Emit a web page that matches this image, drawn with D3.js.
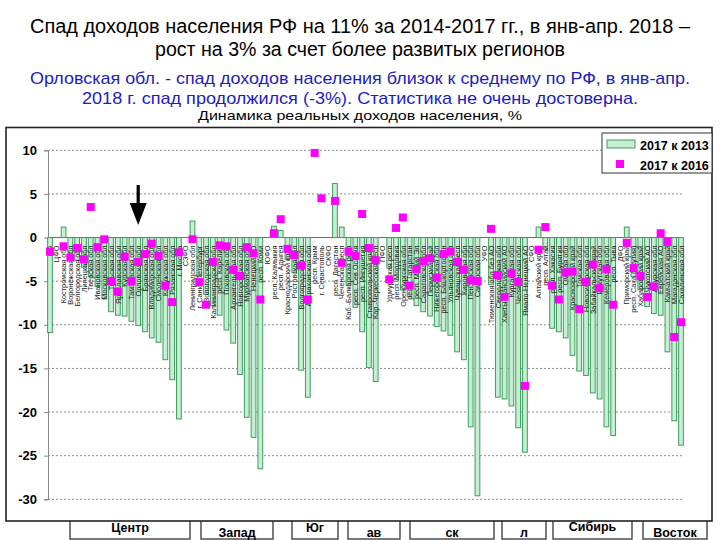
<!DOCTYPE html>
<html><head><meta charset="utf-8">
<script src="https://cdn.jsdelivr.net/npm/d3@7/dist/d3.min.js"></script>
<style>body{margin:0;background:#fff}svg{display:block}</style>
</head><body>
<svg id="chart" width="720" height="540"></svg>
<script>
// ---------- DATA ----------
const categories = [
 "РФ","ЦФО",
 "Костромская обл","Воронежская обл","Белгородская обл","Липецкая обл","Тверская обл","Ивановская обл",
 "Московская обл","Тульская обл","Ярославская обл","Курская обл","Тамбовская обл","Орловская обл",
 "Брянская обл","Владимирская обл","Смоленская обл","Калужская обл","Рязанская обл","г. Москва",
 "СЗФО",
 "Ленинградская обл","г. Санкт-Петербург","Вологодская обл","Калининградская обл","респ. Карелия",
 "Псковская обл","Архангельская обл","Новгородская обл","Мурманская обл","Ненецкий АО","респ. Коми",
 "ЮФО",
 "респ. Калмыкия","респ. Адыгея","Краснодарский край","Ростовская обл","Волгоградская обл",
 "Астраханская обл","респ. Крым","г. Севастополь",
 "СКФО",
 "респ. Дагестан","Чеченская респ","Каб.-Балкарская респ","респ. Сев.Осетия","респ. Ингушетия",
 "Ставропольский край","Кар.-Черкесская респ",
 "ПФО",
 "Удмуртская респ","респ. Мордовия","Оренбургская обл","респ. Татарстан","респ. Марий Эл",
 "Саратовская обл","Пермский край","Нижегородская обл","респ. Башкортостан","Ульяновская обл",
 "Чувашская респ","Кировская обл","Пензенская обл","Самарская обл",
 "УФО",
 "Тюменская обл без АО","Свердловская обл","Ханты-Мансийский АО","Курганская обл","Челябинская обл",
 "Ямало-Ненецкий АО",
 "СФО",
 "Алтайский край","респ. Алтай","респ. Хакасия","респ. Бурятия","Омская обл","Красноярский край",
 "Томская обл","Новосибирская обл","Забайкальский край","Иркутская обл","Кемеровская обл","респ. Тыва",
 "ДФО",
 "Приморский край","респ. Саха (Якутия)","Хабаровский край","Чукотский АО","Амурская обл",
 "Еврейская АО","Камчатский край","Магаданская обл","Сахалинская обл"
];
// 2017 к 2013, %
const change2013 = [
 -10.9, null,
 1.2, -1.8, -2.6, -3.4, -4.5, -5.6, -7.0, -8.5, -8.9, -9.0, -9.6, -10.1, -10.8, -11.5, -12.0, -14.0, -16.3, -20.8,
 null,
 1.9, -4.5, -6.5, -7.8, -8.9, -10.6, -12.1, -15.7, -20.6, -22.9, -26.5,
 null,
 1.3, 0.8, -2.5, -4.0, -15.2, -18.3, null, null,
 null,
 6.2, 1.2, -5.5, -8.0, -10.8, -14.9, -16.5,
 null,
 -3.5, -5.0, -6.0, -6.8, -7.8, -8.5, -9.0, -10.2, -10.7, -11.2, -13.1, -14.0, -21.7, -29.6,
 null,
 -5.4, -18.3, -18.5, -19.3, -21.8, -24.6,
 null,
 1.2, -1.4, -10.4, -10.8, -11.5, -13.5, -15.3, -15.8, -17.8, -18.5, -21.7, -22.7,
 null,
 1.2, -4.5, -6.0, -7.9, -8.7, -8.9, -13.1, -21.0, -23.8
];
// 2017 к 2016, %
const change2016 = [
 -1.6, null,
 -1.0, -2.3, -1.2, -2.5, 3.5, -1.1, -0.2, -5.0, -6.2, -2.2, -5.0, -2.8, -1.9, -0.7, -2.1, -5.5, -7.4, -1.7,
 null,
 -0.2, -5.1, -7.7, -2.8, -0.9, -1.0, -3.7, -4.4, -1.1, -1.8, -7.1,
 null,
 0.5, 2.1, -1.3, -2.0, -3.2, -7.1, 9.7, 4.5,
 null,
 4.2, -2.9, -1.6, -2.1, 2.7, -1.2, -2.6,
 null,
 -4.8, 1.1, 2.3, -5.5, -3.6, -2.7, -2.4, -4.6, -1.9, -1.6, -2.8, -3.7, -4.9, -5.0,
 null,
 1.0, -4.3, -6.8, -4.1, -5.1, -17.0,
 null,
 -1.4, 1.2, -5.5, -7.1, -4.0, -3.9, -8.2, -5.1, -3.1, -5.8, -3.6, -7.7,
 null,
 -0.6, -3.5, -4.4, -6.8, -5.6, 0.5, -0.5, -11.4, -9.7
];
const yTicks = [10, 5, 0, -5, -10, -15, -20, -25, -30];
const legendLabels = ["2017 к 2013", "2017 к 2016"];
const titleLines = [
 "Спад доходов населения РФ на 11% за 2014-2017 гг., в янв-апр. 2018 –",
 "рост на 3% за счет более развитых регионов",
 "Орловская обл. - спад доходов населения близок к среднему по РФ, в янв-апр.",
 "2018 г. спад продолжился (-3%). Статистика не очень достоверна.",
 "Динамика реальных доходов населения, %"
];
const groupLabels = ["Центр", "Запад", "Юг", "ав", "ск", "л", "Сибирь", "Восток"];
const markedRegion = "Орловская обл";

// ---------- LAYOUT ----------
const svg = d3.select("#chart");
const FONT = "'Liberation Sans', Arial, Helvetica, sans-serif";
const titleStyle = [
 {y: 33, size: 19.5, color: "#000", w: 660},
 {y: 56, size: 19.5, color: "#000", w: 410},
 {y: 83.5, size: 17, color: "#1c1cc4", w: 660},
 {y: 103.5, size: 17, color: "#1c1cc4", w: 556},
 {y: 119.5, size: 13.5, color: "#000", w: 324}
];
titleLines.forEach((t, i) => {
  const s = titleStyle[i];
  svg.append("text").attr("x", 360).attr("y", s.y)
    .attr("text-anchor", "middle").attr("font-family", FONT)
    .attr("font-size", s.size).attr("fill", s.color)
    .attr("textLength", s.w).attr("lengthAdjust", "spacingAndGlyphs").text(t);
});

// bottom group boxes (drawn before plot so the plot covers their tops)
const boxLayout = [[70,190,531.5],[201,273,536.5],[292,338,531.5],[348,400,536.5],[410,494,536.5],[502,546,536.5],[553,632,530.5],[643,707,536.5]];
const gb = svg.append("g");
groupLabels.forEach((g, i) => {
  const [x0, x1, by] = boxLayout[i];
  gb.append("rect").attr("x", x0).attr("y", 505).attr("width", x1 - x0).attr("height", 34)
    .attr("fill", "#fff").attr("stroke", "#444").attr("stroke-width", 1.4);
  gb.append("text").attr("x", (x0 + x1) / 2).attr("y", by).attr("text-anchor", "middle")
    .attr("font-family", FONT).attr("font-weight", "bold").attr("font-size", 12.5).text(g);
});

// plot frame
svg.append("rect").attr("x", 6).attr("y", 127.5).attr("width", 706).attr("height", 393.5)
  .attr("fill", "#fff").attr("stroke", "#222").attr("stroke-width", 1.6);

const x = d3.scaleBand().domain(d3.range(categories.length))
  .range([46.6, 684.4]).paddingInner(0.3).paddingOuter(0.15);
const y = d3.scaleLinear().domain([-30, 10]).range([499.3, 150.3]);
const cx = i => x(i) + x.bandwidth() / 2;

// gridlines
const grid = svg.append("g");
grid.selectAll("line").data(yTicks).join("line")
  .attr("x1", 48).attr("x2", 683).attr("y1", d => y(d)).attr("y2", d => y(d))
  .attr("stroke", d => d === 0 ? "#666" : "#8a8a8a")
  .attr("stroke-width", 1)
  .attr("stroke-dasharray", d => d === 0 ? null : "2,2");

// y axis
const yAxis = svg.append("g").attr("transform", "translate(48,0)")
  .call(d3.axisLeft(y).tickValues(yTicks).tickSize(4).tickPadding(7).tickFormat(d => String(d)));
yAxis.select(".domain").attr("stroke", "#888");
yAxis.selectAll(".tick line").attr("stroke", "#888");
yAxis.selectAll(".tick text").attr("font-family", FONT).attr("font-weight", "bold")
  .attr("font-size", 13).attr("fill", "#000");

// bars
const idx = d3.range(categories.length);
svg.append("g").selectAll("rect").data(idx.filter(i => change2013[i] !== null)).join("rect")
  .attr("x", i => x(i)).attr("width", x.bandwidth())
  .attr("y", i => y(Math.max(0, change2013[i])))
  .attr("height", i => Math.abs(y(change2013[i]) - y(0)))
  .attr("fill", "#c6eed2").attr("stroke", "#3f9d5f").attr("stroke-width", 1);

// category labels
svg.append("g").selectAll("text").data(idx).join("text")
  .attr("transform", i => `translate(${cx(i) + 2.7},${y(0) + 8}) rotate(-90)`)
  .attr("text-anchor", "end").attr("font-family", FONT).attr("font-size", 7.3)
  .attr("fill", "#222").text(i => categories[i]);

// dots
const sq = 8;
svg.append("g").selectAll("rect").data(idx.filter(i => change2016[i] !== null)).join("rect")
  .attr("x", i => cx(i) - sq / 2).attr("y", i => y(change2016[i]) - sq / 2)
  .attr("width", sq).attr("height", sq).attr("fill", "#ff00ff");

// arrow pointing at marked region
const ai = categories.indexOf(markedRegion);
const ax = cx(ai);
svg.append("path")
  .attr("d", `M${ax-1.6},185 L${ax+1.6},185 L${ax+1.6},203 L${ax+8.5},203 L${ax},225 L${ax-8.5},203 L${ax-1.6},203 Z`)
  .attr("fill", "#000");

// legend
const lg = svg.append("g");
lg.append("rect").attr("x", 602).attr("y", 133).attr("width", 110).attr("height", 40)
  .attr("fill", "#fff").attr("stroke", "#333").attr("stroke-width", 1);
lg.append("rect").attr("x", 607).attr("y", 140).attr("width", 28).attr("height", 8)
  .attr("fill", "#c6eed2").attr("stroke", "#3f9d5f");
lg.append("rect").attr("x", 616).attr("y", 160).attr("width", 8).attr("height", 8).attr("fill", "#ff00ff");
legendLabels.forEach((t, i) => {
  lg.append("text").attr("x", 640).attr("y", 149.5 + i * 20).attr("font-family", FONT)
    .attr("font-weight", "bold").attr("font-size", 12.5).text(t);
});
</script>
</body></html>
